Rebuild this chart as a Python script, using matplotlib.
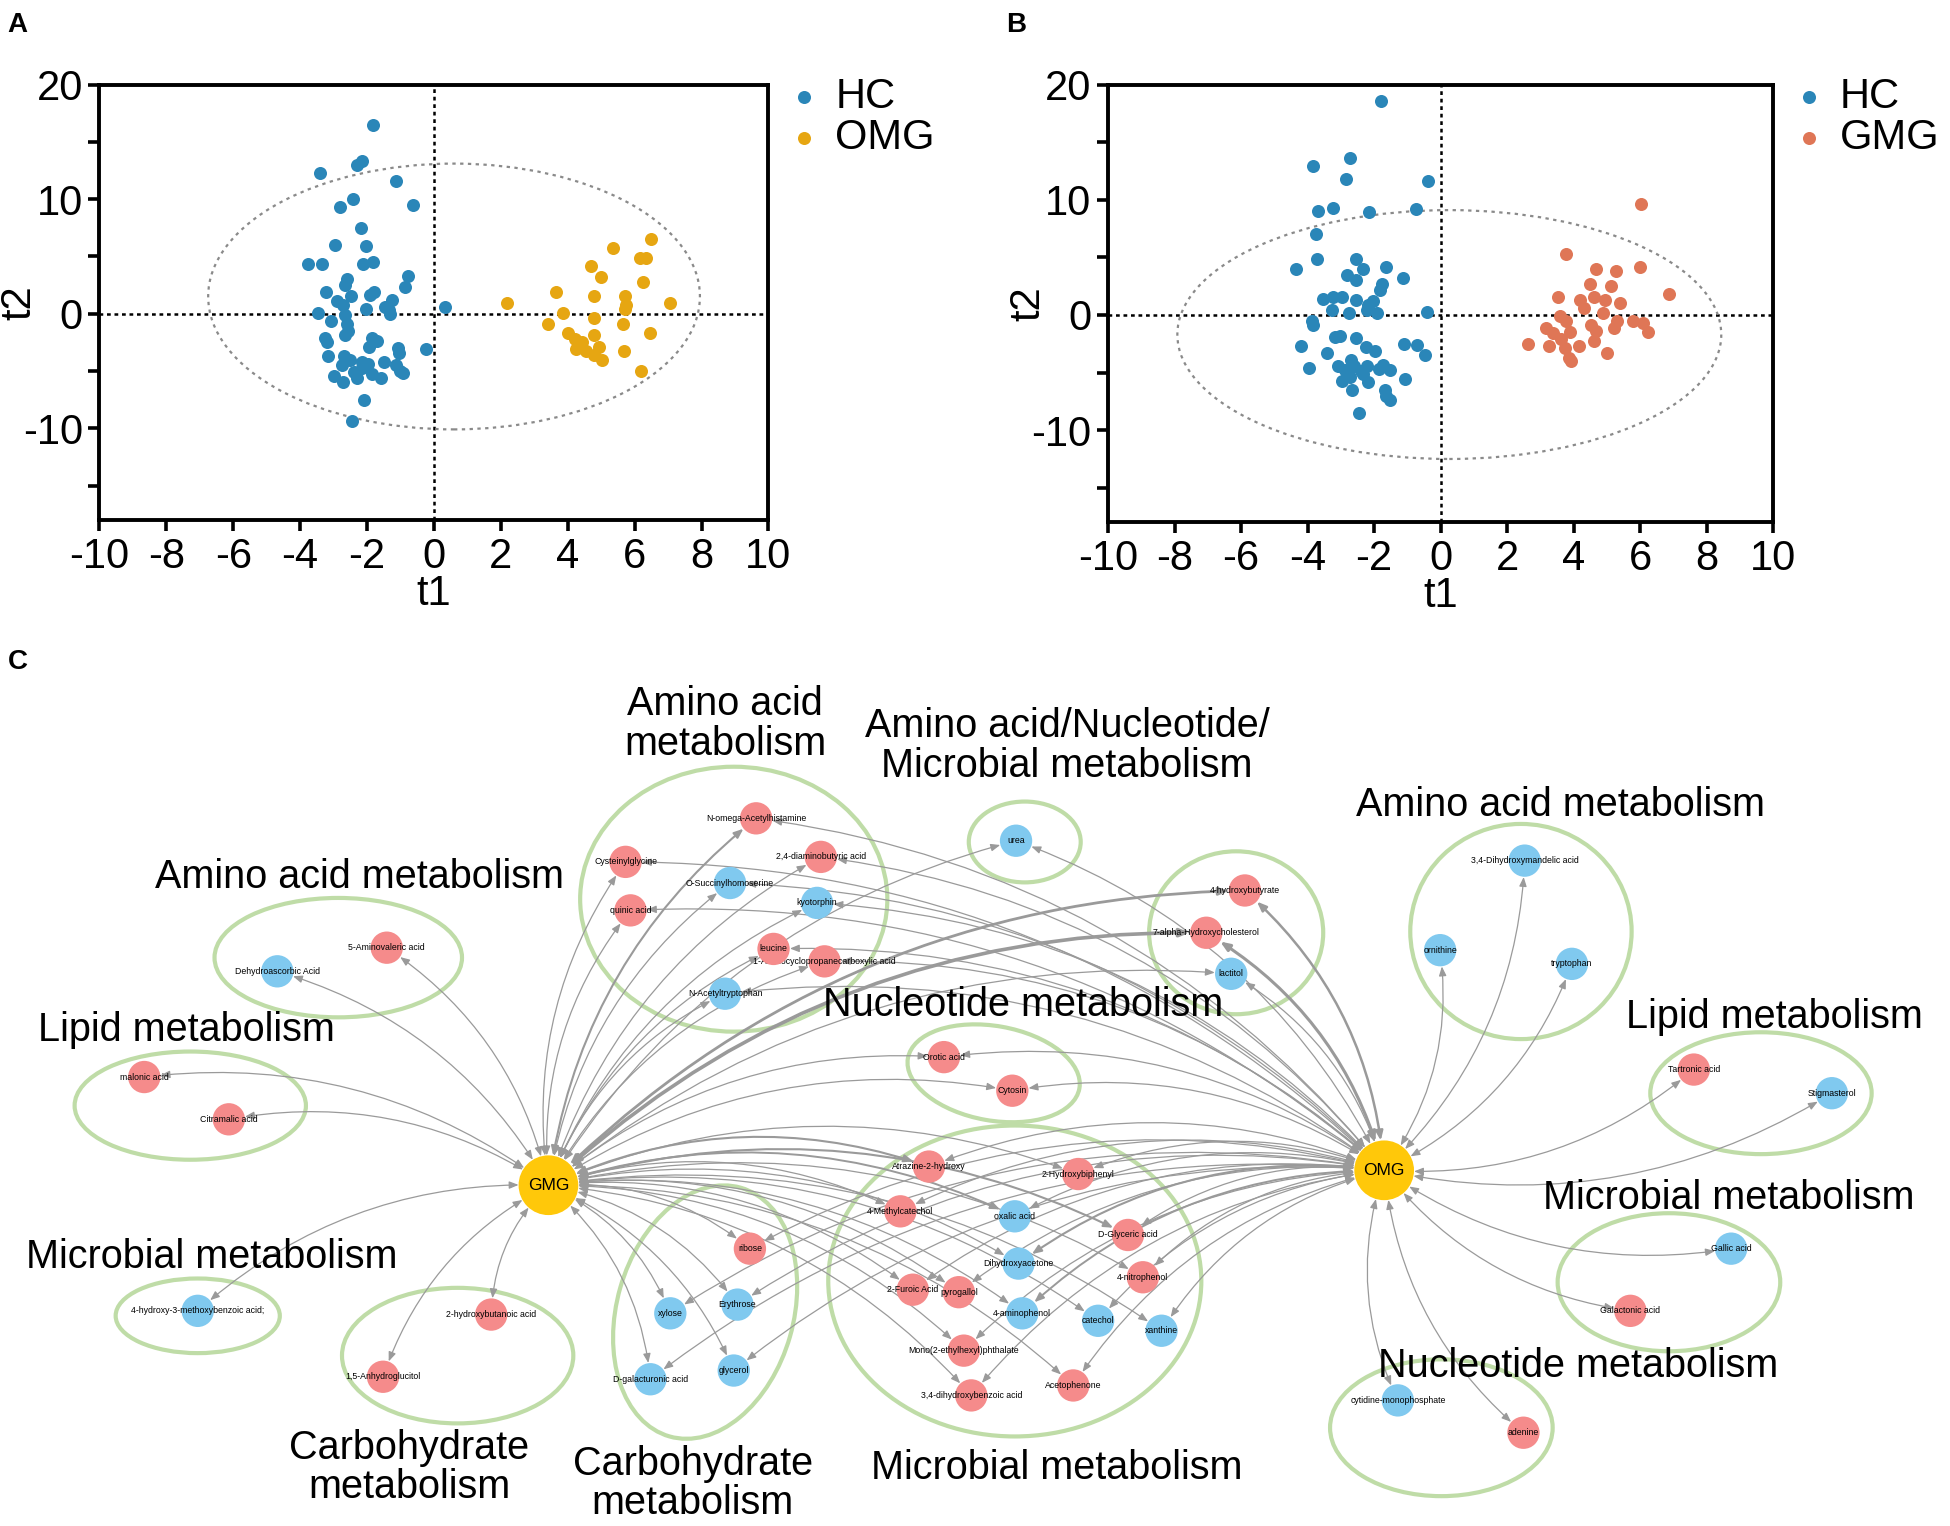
import matplotlib
matplotlib.use("Agg")
import matplotlib.pyplot as plt
from matplotlib.patches import Ellipse, Circle, FancyArrowPatch

plt.rcParams["font.family"] = ["Liberation Sans", "DejaVu Sans"]
plt.rcParams["axes.unicode_minus"] = False
NARROW = ["Liberation Sans Narrow", "Liberation Sans", "DejaVu Sans"]

# ---- PCA scores, panel A (HC vs OMG) ----
hc_a_t1 = [-1.82, -2.16, -2.29, -3.42, -1.13, -2.42, -2.80, -0.62, -2.18, -2.95,
           -2.03, -3.76, -3.35, -1.82, -2.12, -0.77, -2.61, -2.65, -0.88, -3.23,
           -1.80, -1.90, -2.48, -2.91, -1.24, -2.73, -1.47, -2.03, -1.35, 0.32,
           -3.46, -1.30, -2.67, -3.08, -2.61, -2.58, -2.65, -3.25, -1.86, -1.69,
           -3.21, -1.95, -1.07, -0.24, -1.05, -3.16, -2.69, -2.52, -1.48, -2.16,
           -1.97, -2.74, -1.13, -1.03, -2.99, -2.39, -1.86, -1.58, -2.73, -2.29,
           -2.09, -2.44, -0.92, -2.16]
hc_a_t2 = [16.5, 13.3, 13.0, 12.3, 11.6, 10.0, 9.3, 9.5, 7.5, 6.0,
           5.9, 4.3, 4.3, 4.5, 4.3, 3.3, 3.0, 2.5, 2.3, 1.9,
           1.9, 1.6, 1.5, 1.1, 1.2, 0.8, 0.6, 0.4, 0.3, 0.6,
           0.1, 0.0, -0.1, -0.6, -0.9, -1.5, -1.9, -2.1, -2.1, -2.4,
           -2.5, -2.9, -3.0, -3.1, -3.4, -3.7, -3.7, -4.0, -4.2, -4.2,
           -4.4, -4.5, -4.5, -5.0, -5.4, -5.1, -5.3, -5.6, -6.0, -5.6,
           -7.5, -9.4, -5.2, -4.7]
omg_t1 = [6.50, 5.34, 6.17, 6.33, 4.68, 4.98, 6.24, 3.65, 4.79, 5.70,
          5.75, 2.18, 7.07, 5.71, 3.85, 4.77, 3.40, 5.64, 6.45, 4.02,
          4.77, 4.21, 4.42, 4.92, 4.26, 4.55, 5.68, 4.79, 5.02, 6.18]
omg_t2 = [6.5, 5.7, 4.9, 4.9, 4.2, 3.2, 2.8, 1.9, 1.5, 1.5,
          0.8, 0.9, 0.9, 0.4, 0.1, -0.4, -0.9, -0.9, -1.7, -1.7,
          -1.9, -2.2, -2.5, -2.9, -3.1, -3.3, -3.3, -3.6, -4.0, -5.0]

# ---- PCA scores, panel B (HC vs GMG) ----
hc_b_t1 = [-1.79, -2.74, -3.85, -2.85, -0.37, -3.69, -3.24, -2.16, -0.73, -3.76,
           -3.72, -2.55, -4.36, -2.33, -1.64, -2.81, -2.55, -1.12, -1.75, -1.81,
           -3.54, -3.24, -2.98, -2.55, -2.03, -2.18, -1.90, -3.26, -2.77, -2.20,
           -0.41, -3.87, -3.83, -3.17, -3.04, -2.53, -4.21, -1.10, -0.71, -2.23,
           -1.96, -3.43, -0.48, -2.70, -3.09, -2.59, -2.22, -1.73, -3.95, -2.89,
           -2.38, -1.86, -1.51, -2.96, -2.18, -1.08, -2.72, -1.66, -2.68, -1.53,
           -2.44, -1.64, -2.33]
hc_b_t2 = [18.6, 13.6, 12.9, 11.8, 11.6, 9.0, 9.3, 8.9, 9.2, 7.0,
           4.9, 4.9, 4.0, 4.0, 4.2, 3.5, 3.0, 3.2, 2.7, 2.2,
           1.4, 1.6, 1.6, 1.3, 1.2, 0.9, 0.2, 0.4, 0.2, 0.4,
           0.3, -0.5, -0.9, -1.9, -1.8, -2.0, -2.7, -2.5, -2.6, -2.8,
           -3.1, -3.3, -3.5, -3.9, -4.4, -4.4, -4.4, -4.3, -4.6, -4.8,
           -4.9, -4.7, -4.8, -5.7, -5.8, -5.6, -5.4, -6.5, -6.5, -7.4,
           -8.5, -7.0, -5.1]
gmg_t1 = [6.01, 3.78, 4.67, 5.27, 5.98, 4.49, 5.12, 3.52, 4.60, 4.19,
          6.85, 4.95, 5.40, 4.30, 4.88, 3.58, 3.76, 5.31, 5.77, 6.07,
          3.17, 4.53, 5.20, 3.37, 3.89, 4.67, 6.24, 3.63, 4.62, 2.63,
          3.26, 3.74, 4.17, 5.01, 3.85, 3.91]
gmg_t2 = [9.6, 5.3, 4.0, 3.8, 4.2, 2.7, 2.5, 1.6, 1.6, 1.3,
          1.8, 1.3, 1.0, 0.6, 0.2, -0.1, -0.5, -0.5, -0.5, -0.7,
          -1.1, -0.9, -1.1, -1.6, -1.5, -1.4, -1.5, -2.1, -2.3, -2.5,
          -2.7, -2.9, -2.7, -3.3, -3.7, -4.0]

# 95% confidence ellipses: centre t1, centre t2, width, height
ellipse_a = (0.6, 1.5, 14.7, 23.2)
ellipse_b = (0.26, -1.7, 16.35, 21.6)

# ---- network, panel C ----
group_titles = ["Amino acid metabolism", "Lipid metabolism", "Microbial metabolism",
                "Carbohydrate\nmetabolism", "Amino acid\nmetabolism",
                "Amino acid/Nucleotide/\nMicrobial metabolism", "",
                "Nucleotide metabolism", "Microbial metabolism", "Carbohydrate\nmetabolism",
                "Amino acid metabolism", "Lipid metabolism", "Microbial metabolism",
                "Nucleotide metabolism"]
group_members = [
    ["Dehydroascorbic Acid", "5-Aminovaleric acid"],
    ["malonic acid", "Citramalic acid"],
    ["4-hydroxy-3-methoxybenzoic acid;"],
    ["2-hydroxybutanoic acid", "1,5-Anhydroglucitol"],
    ["N-omega-Acetylhistamine", "Cysteinylglycine", "2,4-diaminobutyric acid",
     "O-Succinylhomoserine", "kyotorphin", "quinic acid",
     "1-Aminocyclopropanecarboxylic acid", "leucine", "N-Acetyltryptophan"],
    ["urea"],
    ["4-hydroxybutyrate", "7-alpha-Hydroxycholesterol", "lactitol"],
    ["Orotic acid", "Cytosin"],
    ["Atrazine-2-hydroxy", "2-Hydroxybiphenyl", "4-Methylcatechol", "oxalic acid",
     "D-Glyceric acid", "Dihydroxyacetone", "4-nitrophenol", "2-Furoic Acid",
     "pyrogallol", "4-aminophenol", "catechol", "xanthine",
     "Mono(2-ethylhexyl)phthalate", "Acetophenone", "3,4-dihydroxybenzoic acid"],
    ["ribose", "xylose", "Erythrose", "D-galacturonic acid", "glycerol"],
    ["3,4-Dihydroxymandelic acid", "ornithine", "tryptophan"],
    ["Tartronic acid", "Stigmasterol"],
    ["Gallic acid", "Galactonic acid"],
    ["cytidine-monophosphate", "adenine"],
]
up_regulated = ["5-Aminovaleric acid", "malonic acid", "Citramalic acid",
                "2-hydroxybutanoic acid", "1,5-Anhydroglucitol", "N-omega-Acetylhistamine",
                "Cysteinylglycine", "2,4-diaminobutyric acid", "quinic acid",
                "1-Aminocyclopropanecarboxylic acid", "leucine", "4-hydroxybutyrate",
                "7-alpha-Hydroxycholesterol", "Orotic acid", "Cytosin", "Atrazine-2-hydroxy",
                "2-Hydroxybiphenyl", "4-Methylcatechol", "D-Glyceric acid", "4-nitrophenol",
                "2-Furoic Acid", "pyrogallol", "Mono(2-ethylhexyl)phthalate", "Acetophenone",
                "3,4-dihydroxybenzoic acid", "ribose", "Tartronic acid", "Galactonic acid",
                "adenine"]
gmg_groups = [0, 1, 2, 3, 4, 5, 6, 7, 8, 9]
omg_groups = [4, 5, 6, 7, 8, 9, 10, 11, 12, 13]
strong_links = {("GMG", "7-alpha-Hydroxycholesterol"): 2.6, ("GMG", "4-hydroxybutyrate"): 2.0,
                ("OMG", "7-alpha-Hydroxycholesterol"): 2.2, ("OMG", "4-hydroxybutyrate"): 1.8,
                ("GMG", "N-omega-Acetylhistamine"): 1.5, ("GMG", "Atrazine-2-hydroxy"): 1.5,
                ("GMG", "D-Glyceric acid"): 1.5, ("OMG", "Dihydroxyacetone"): 1.5,
                ("OMG", "4-aminophenol"): 1.4, ("GMG", "oxalic acid"): 1.4}

# ---- layout of panel C (page pixels of a 1568 x 1227 canvas) ----
hub_pos = {"GMG": (441, 953), "OMG": (1113, 941)}
node_pos = {
    "Dehydroascorbic Acid": (223, 781), "5-Aminovaleric acid": (311, 762),
    "malonic acid": (116, 866), "Citramalic acid": (184, 900),
    "4-hydroxy-3-methoxybenzoic acid;": (159, 1054),
    "2-hydroxybutanoic acid": (395, 1057), "1,5-Anhydroglucitol": (308, 1107),
    "N-omega-Acetylhistamine": (608, 658), "Cysteinylglycine": (503, 693),
    "2,4-diaminobutyric acid": (660, 689), "O-Succinylhomoserine": (587, 710),
    "kyotorphin": (657, 726), "quinic acid": (507, 732),
    "1-Aminocyclopropanecarboxylic acid": (663, 773), "leucine": (622, 763),
    "N-Acetyltryptophan": (583, 799), "urea": (817, 676),
    "4-hydroxybutyrate": (1001, 716), "7-alpha-Hydroxycholesterol": (970, 750),
    "lactitol": (990, 783), "Orotic acid": (759, 850), "Cytosin": (814, 877),
    "Atrazine-2-hydroxy": (747, 938), "2-Hydroxybiphenyl": (867, 944),
    "4-Methylcatechol": (724, 974), "oxalic acid": (816, 978),
    "D-Glyceric acid": (907, 993), "Dihydroxyacetone": (819, 1016),
    "4-nitrophenol": (919, 1027), "2-Furoic Acid": (734, 1037),
    "pyrogallol": (771, 1039), "4-aminophenol": (822, 1056),
    "catechol": (883, 1062), "xanthine": (934, 1070),
    "Mono(2-ethylhexyl)phthalate": (775, 1086), "Acetophenone": (863, 1114),
    "3,4-dihydroxybenzoic acid": (781, 1122), "ribose": (603, 1004),
    "xylose": (539, 1056), "Erythrose": (593, 1049),
    "D-galacturonic acid": (523, 1109), "glycerol": (590, 1102),
    "3,4-Dihydroxymandelic acid": (1226, 692), "ornithine": (1158, 764),
    "tryptophan": (1264, 775), "Tartronic acid": (1362, 860),
    "Stigmasterol": (1473, 879), "Gallic acid": (1392, 1004),
    "Galactonic acid": (1311, 1054), "cytidine-monophosphate": (1124, 1126),
    "adenine": (1225, 1152),
}
# cx, cy, width, height, angle
group_shape = [(272, 770, 199, 96, 0), (153, 889, 186, 87, 0), (159, 1058, 132, 60, 0),
               (368, 1090, 186, 109, 0), (590, 723, 247, 213, 0), (824, 677, 90, 65, 0),
               (994, 750, 140, 131, 0), (799, 863, 140, 76, 10), (816, 1030, 300, 250, 0),
               (567, 1055, 142, 208, 16), (1223, 749, 178, 173, 0), (1416, 879, 178, 98, 0),
               (1342, 1031, 179, 111, 0), (1159, 1148, 179, 110, 0)]
title_pos = [(289, 705), (150, 828), (170, 1011), (329, 1180), (583, 582), (858, 600),
             (0, 0), (823, 808), (850, 1180), (557, 1193), (1255, 647), (1427, 818),
             (1390, 963), (1269, 1098)]

HC_COL = "#2a86b8"
OMG_COL = "#e6a612"
GMG_COL = "#df7656"
PINK = "#f58b8b"
BLUE = "#80c9ef"
HUB = "#ffc80a"
GREEN = "#bfdca7"
EDGE = "#9a9a9a"

fig = plt.figure(figsize=(19.5, 15.26), dpi=100)

# panel C canvas spans the whole page
axc = fig.add_axes([0, 0, 1, 1])
axc.set_xlim(0, 1568)
axc.set_ylim(1227, 0)
axc.axis("off")


def pca_panel(ax, hc_t1, hc_t2, g_t1, g_t2, g_name, g_col, ell):
    ax.scatter(hc_t1, hc_t2, s=88, color=HC_COL, linewidths=0, label="HC", zorder=3)
    ax.scatter(g_t1, g_t2, s=88, color=g_col, linewidths=0, label=g_name, zorder=3)
    ax.axhline(0, color="black", lw=1.8, ls=(0, (1.5, 1.5)), zorder=1)
    ax.axvline(0, color="black", lw=1.8, ls=(0, (1.5, 1.5)), zorder=1)
    ax.add_patch(Ellipse((ell[0], ell[1]), ell[2], ell[3], fill=False, ec="#8a8a8a",
                         lw=1.6, ls=(0, (1.5, 2)), zorder=2))
    ax.set_xlim(-10, 10)
    ax.set_ylim(-18, 20)
    ax.set_xticks(range(-10, 11, 2))
    ax.set_yticks([-10, 0, 10, 20])
    ax.set_yticks([-15, -5, 5, 15], minor=True)
    for sp in ax.spines.values():
        sp.set_linewidth(2.8)
    ax.tick_params(which="both", direction="out", length=8, width=2.6, labelsize=30, pad=4)
    ax.tick_params(axis="x", which="minor", length=0)
    for lab in ax.get_xticklabels() + ax.get_yticklabels():
        lab.set_family(NARROW)
    ax.set_xlabel("t1", fontsize=30, family=NARROW, labelpad=-2)
    ax.set_ylabel("t2", fontsize=30, family=NARROW)
    ax.yaxis.set_label_coords(-0.09, 0.5)
    ax.legend(loc="upper left", bbox_to_anchor=(1.0, 1.07), frameon=False,
              handlelength=0.6, handletextpad=0.45, labelspacing=0.02,
              borderaxespad=0.15, prop={"family": NARROW, "size": 30})


ax_a = fig.add_axes([0.0510, 0.6593, 0.3431, 0.2853])
pca_panel(ax_a, hc_a_t1, hc_a_t2, omg_t1, omg_t2, "OMG", OMG_COL, ellipse_a)
ax_b = fig.add_axes([0.5682, 0.6577, 0.3412, 0.2869])
pca_panel(ax_b, hc_b_t1, hc_b_t2, gmg_t1, gmg_t2, "GMG", GMG_COL, ellipse_b)

fig.text(0.004, 0.992, "A", fontsize=20, fontweight="bold", va="top")
fig.text(0.516, 0.992, "B", fontsize=20, fontweight="bold", va="top")
axc.text(6, 532, "C", fontsize=20, fontweight="bold", va="center")

# group outlines and titles
for shape, title, tp in zip(group_shape, group_titles, title_pos):
    cx, cy, w, h, ang = shape
    axc.add_patch(Ellipse((cx, cy), w, h, angle=ang, fill=False, ec=GREEN, lw=3.0, zorder=1))
    if title:
        axc.text(tp[0], tp[1], title, fontsize=28.5, ha="center", va="center",
                 linespacing=1.05, zorder=20)

# edges hub <-> metabolite
NODE_R = 13
HUB_R = 24
for hub, groups in (("GMG", gmg_groups), ("OMG", omg_groups)):
    hx, hy = hub_pos[hub]
    for g in groups:
        for name in group_members[g]:
            nx, ny = node_pos[name]
            rad = 0.2 if (hub == "OMG" or nx < hx) else -0.2
            lw = strong_links.get((hub, name), 0.9)
            axc.add_patch(FancyArrowPatch(
                (hx, hy), (nx, ny), connectionstyle="arc3,rad=%.2f" % rad,
                arrowstyle="<|-|>,head_length=0.55,head_width=0.22", mutation_scale=10,
                shrinkA=21.5, shrinkB=11.8, color=EDGE, lw=lw, zorder=2))

# metabolite nodes
k = 0
for members in group_members:
    for name in members:
        x, y = node_pos[name]
        col = PINK if name in up_regulated else BLUE
        z = 3 + 0.01 * k
        axc.add_patch(Circle((x, y), NODE_R, color=col, lw=0, zorder=z))
        axc.text(x, y, name, fontsize=6.3, ha="center", va="center", zorder=z + 0.005)
        k += 1

for hub, (x, y) in hub_pos.items():
    axc.add_patch(Circle((x, y), HUB_R, color=HUB, lw=0, zorder=5))
    axc.text(x, y, hub, fontsize=12.5, ha="center", va="center", zorder=6)

fig.savefig("out.png", dpi=100)
